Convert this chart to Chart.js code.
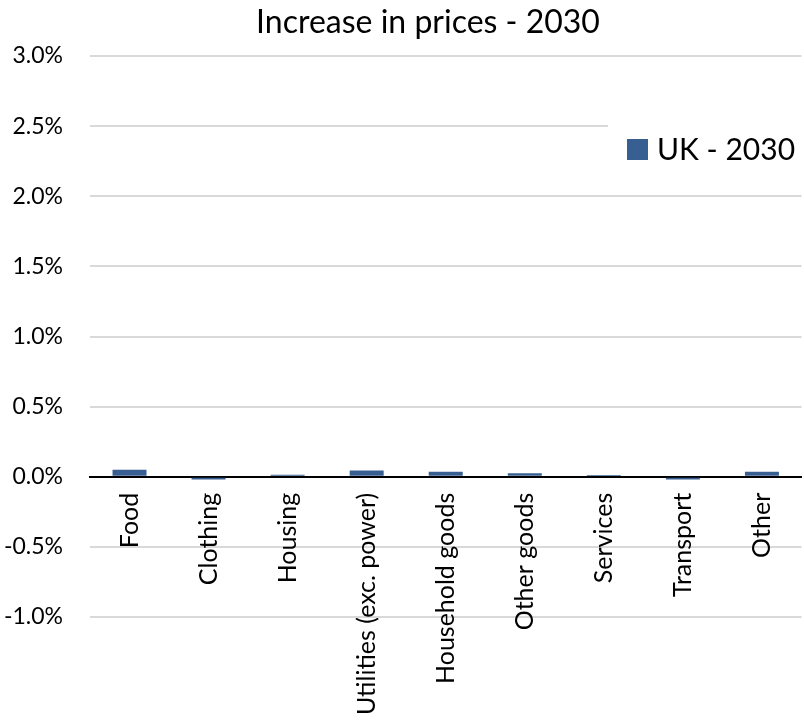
<!DOCTYPE html>
<html>
<head>
<meta charset="utf-8">
<script src="https://cdn.jsdelivr.net/npm/chart.js@4"></script>
<style>
    html, body { margin: 0; padding: 0; background: #fff; overflow: hidden; }
    #wrap { width: 808px; height: 721px; }
</style>
</head>
<body>
<div id="wrap"><canvas id="myChart"></canvas></div>
<script>
let categories = ['Food', 'Clothing', 'Housing', 'Utilities (exc. power)', 'Household goods',
    'Other goods', 'Services', 'Transport', 'Other'];
let ukValues = [0.05, -0.02, 0.015, 0.045, 0.035, 0.025, 0.012, -0.02, 0.035];
let seriesLabel = 'UK - 2030';
let chartTitle = 'Increase in prices - 2030';
let yMin = -1.0;
let yMax = 3.0;
let yStep = 0.5;

const FONT = 'Lato, "Open Sans", sans-serif';
const BAR_COLOR = '#375f91';

// title sits a bit right of the canvas centre, and the legend is inside the plot
const extras = {
    id: 'extras',
    afterDraw(chart){
        const ctx = chart.ctx;
        ctx.save();
        ctx.fillStyle = '#000000';
        ctx.font = '32px ' + FONT;
        ctx.textAlign = 'center';
        ctx.textBaseline = 'middle';
        ctx.fillText(chartTitle, 428, 23);

        const x = 627, y = 150;
        ctx.fillStyle = '#ffffff';
        ctx.fillRect(608, 122, 200, 56);
        ctx.fillStyle = BAR_COLOR;
        ctx.fillRect(x, y - 11, 21, 21);
        ctx.fillStyle = '#000000';
        ctx.font = '30px ' + FONT;
        ctx.textAlign = 'left';
        ctx.fillText(chart.data.datasets[0].label, x + 30, y);
        ctx.restore();
    }
};

var ctx = document.getElementById('myChart').getContext('2d');
let config = {
    type: 'bar',
    data: {
        labels: categories,
        datasets: [{
            label: seriesLabel,
            data: ukValues,
            backgroundColor: BAR_COLOR,
            borderWidth: 0,
            barPercentage: 0.43,
            categoryPercentage: 1.0
        }]
    },
    options: {
        responsive: true,
        maintainAspectRatio: false,
        animation: false,
        layout: { padding: { left: 4, right: 1, top: 56, bottom: 104 } },
        plugins: {
            legend: { display: false },
            tooltip: { enabled: false },
            title: { display: false }
        },
        scales: {
            x: {
                position: { y: 0 },
                grid: { display: false, drawTicks: false },
                border: { display: true, color: '#000', width: 2 },
                ticks: {
                    color: '#000',
                    font: { family: FONT, size: 25 },
                    minRotation: 90,
                    maxRotation: 90,
                    autoSkip: false,
                    padding: 16
                }
            },
            y: {
                min: yMin,
                max: yMax,
                afterFit: function(scale){ scale.width = 86; },
                grid: { color: '#d9d9d9', lineWidth: 2, drawTicks: false },
                border: { display: false },
                ticks: {
                    stepSize: yStep,
                    color: '#000',
                    font: { family: FONT, size: 23 },
                    padding: 27,
                    callback: function(v){ return v.toFixed(1) + '%'; }
                }
            }
        }
    },
    plugins: [extras]
};
let myChart = new Chart(ctx, config);
</script>
</body>
</html>
